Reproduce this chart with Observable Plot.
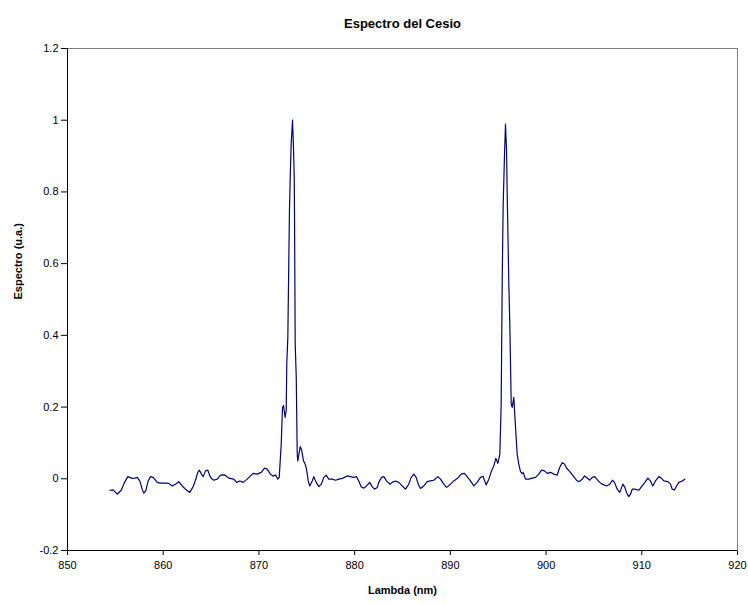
<!DOCTYPE html>
<html>
<head>
<meta charset="utf-8">
<script src="https://cdn.jsdelivr.net/npm/d3@7"></script>
<script src="https://cdn.jsdelivr.net/npm/@observablehq/plot@0.6"></script>
<style>
  body { margin: 0; background: #fff; }
  svg { display: block; }
</style>
</head>
<body>
<div id="chart"></div>
<script>
// Caesium spectrum: wavelength (nm) and normalised intensity (a.u.)
const lambda = [
  854.42, 854.77, 855.19, 855.61, 855.96, 856.30, 856.76, 857.03, 857.28, 857.55,
  857.80, 857.97, 858.18, 858.43, 858.67, 858.95, 859.37, 859.72, 860.24, 860.58,
  860.94, 861.28, 861.63, 861.98, 862.33, 862.78, 863.13, 863.37, 863.61, 863.79,
  864.00, 864.18, 864.42, 864.66, 864.87, 865.04, 865.29, 865.64, 865.99, 866.40,
  866.85, 867.37, 867.66, 868.00, 868.36, 868.77, 869.40, 869.82, 870.24, 870.58,
  870.86, 871.21, 871.49, 871.73, 871.97, 872.12, 872.33, 872.46, 872.57, 872.74,
  872.85, 872.91, 873.02, 873.19, 873.27, 873.37, 873.51, 873.61, 873.69, 873.72,
  873.79, 873.90, 874.00, 874.06, 874.31, 874.48, 874.66, 874.83, 874.97, 875.15,
  875.31, 875.57, 875.73, 875.98, 876.26, 876.51, 876.78, 877.03, 877.30, 877.66,
  878.00, 878.35, 878.70, 878.94, 879.22, 879.57, 879.85, 880.19, 880.43, 880.68,
  880.96, 881.24, 881.58, 881.83, 882.07, 882.36, 882.52, 882.81, 883.05, 883.33,
  883.67, 883.92, 884.27, 884.61, 884.97, 885.31, 885.66, 885.91, 886.18, 886.43,
  886.64, 886.88, 887.23, 887.58, 887.93, 888.27, 888.69, 888.97, 889.31, 889.60,
  890.02, 890.36, 890.78, 891.13, 891.48, 891.82, 892.10, 892.45, 892.80, 893.15,
  893.41, 893.74, 894.02, 894.27, 894.54, 894.75, 894.96, 895.17, 895.31, 895.42,
  895.52, 895.66, 895.76, 895.87, 895.94, 896.11, 896.21, 896.36, 896.46, 896.63,
  896.81, 896.98, 897.15, 897.33, 897.49, 897.61, 897.85, 898.20, 898.55, 898.90,
  899.24, 899.52, 899.84, 900.12, 900.46, 900.81, 901.16, 901.40, 901.69, 901.93,
  902.13, 902.48, 902.83, 903.18, 903.42, 903.78, 904.02, 904.30, 904.57, 904.82,
  905.09, 905.37, 905.61, 905.86, 906.31, 906.66, 906.94, 907.15, 907.43, 907.70,
  908.02, 908.23, 908.40, 908.64, 908.82, 909.00, 909.27, 909.69, 910.04, 910.32,
  910.63, 910.91, 911.15, 911.43, 911.78, 912.03, 912.30, 912.72, 913.00, 913.18,
  913.42, 913.63, 913.87, 914.22, 914.50
];
const espectro = [
  -0.032, -0.031, -0.043, -0.032, -0.010, 0.006, 0.001, 0.002, 0.004, -0.006,
  -0.029, -0.040, -0.033, -0.006, 0.006, 0.004, -0.010, -0.012, -0.012, -0.013,
  -0.020, -0.015, -0.008, -0.020, -0.029, -0.038, -0.022, -0.004, 0.018, 0.024,
  0.013, 0.006, 0.022, 0.024, 0.008, 0.001, -0.004, -0.001, 0.010, 0.011,
  0.002, -0.001, -0.010, -0.006, -0.010, -0.001, 0.015, 0.013, 0.018, 0.030,
  0.027, 0.013, 0.007, 0.011, -0.001, 0.004, 0.098, 0.199, 0.204, 0.171,
  0.190, 0.321, 0.394, 0.748, 0.840, 0.934, 1.000, 0.924, 0.840, 0.729,
  0.376, 0.283, 0.069, 0.050, 0.090, 0.078, 0.050, 0.041, 0.027, -0.006,
  -0.020, -0.006, 0.006, -0.010, -0.022, -0.015, 0.004, 0.010, -0.001, -0.001,
  -0.004, -0.001, 0.001, 0.004, 0.008, 0.006, 0.004, 0.006, -0.006, -0.022,
  -0.026, -0.020, -0.010, -0.022, -0.029, -0.024, -0.010, 0.004, 0.006, -0.006,
  -0.015, -0.010, -0.006, -0.010, -0.020, -0.029, -0.015, 0.004, 0.013, 0.004,
  -0.015, -0.027, -0.020, -0.008, -0.006, -0.004, 0.006, -0.001, -0.015, -0.024,
  -0.015, -0.006, 0.002, 0.013, 0.015, 0.004, -0.006, -0.020, -0.010, 0.004,
  0.007, -0.017, -0.001, 0.020, 0.036, 0.057, 0.043, 0.069, 0.208, 0.562,
  0.766, 0.906, 0.989, 0.915, 0.794, 0.543, 0.432, 0.208, 0.199, 0.227,
  0.143, 0.069, 0.041, 0.020, 0.014, 0.018, -0.001, -0.001, 0.002, 0.004,
  0.013, 0.024, 0.022, 0.015, 0.018, 0.013, 0.010, 0.030, 0.045, 0.041,
  0.030, 0.020, 0.008, -0.004, -0.008, -0.001, 0.008, 0.002, -0.004, 0.004,
  0.006, -0.003, -0.010, -0.015, -0.020, -0.015, -0.004, -0.010, -0.029, -0.038,
  -0.015, -0.024, -0.038, -0.050, -0.043, -0.029, -0.029, -0.032, -0.020, -0.010,
  0.002, -0.006, -0.020, -0.006, 0.006, 0.002, -0.006, -0.008, -0.015, -0.029,
  -0.031, -0.020, -0.010, -0.006, -0.001
];

const xTicks = [850, 860, 870, 880, 890, 900, 910, 920];
const yTicks = [-0.2, 0, 0.2, 0.4, 0.6, 0.8, 1, 1.2];

const title = "Espectro del Cesio";
const xLabel = "Lambda (nm)";
const yLabel = "Espectro (u.a.)";

const data = lambda.map((x, i) => ({x, y: espectro[i]}));

const chart = Plot.plot({
  width: 748,
  height: 604,
  marginLeft: 67,
  marginRight: 11,
  marginTop: 48,
  marginBottom: 54,
  style: {
    fontFamily: "'Liberation Sans', Arial, sans-serif",
    fontSize: "11px",
    color: "#000",
    background: "#fff"
  },
  x: {domain: [850, 920], ticks: xTicks, tickSize: 5, tickPadding: 6, label: null},
  y: {domain: [-0.2, 1.2], ticks: yTicks, tickSize: 6, tickPadding: 3,
      tickFormat: d => String(+d.toFixed(1)), label: null},
  marks: [
    Plot.frame({stroke: "#808080"}),
    Plot.ruleX([850], {stroke: "#000"}),
    Plot.ruleY([-0.2], {stroke: "#000"}),
    Plot.line(data, {x: "x", y: "y", stroke: "#000080", strokeWidth: 1.2}),
    Plot.text([title], {text: d => d, frameAnchor: "top", dy: -30,
      fontWeight: "bold", fontSize: 13}),
    Plot.text([xLabel], {text: d => d, frameAnchor: "bottom", dy: 43,
      fontWeight: "bold", fontSize: 11}),
    Plot.text([yLabel], {text: d => d, frameAnchor: "left", dx: -49, rotate: -90,
      fontWeight: "bold", fontSize: 11})
  ]
});

document.getElementById("chart").appendChild(chart);
</script>
</body>
</html>
